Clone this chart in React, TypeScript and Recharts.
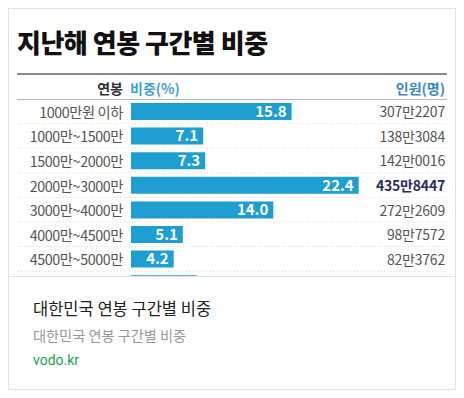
import { BarChart, Bar, XAxis, YAxis, LabelList } from 'recharts';

// 연봉 구간 (left labels)
const brackets = [
  '1000만원 이하',
  '1000만~1500만',
  '1500만~2000만',
  '2000만~3000만',
  '3000만~4000만',
  '4000만~4500만',
  '4500만~5000만',
  '5000만~6000만',
];
// 비중(%)
const shares = [15.8, 7.1, 7.3, 22.4, 14.0, 5.1, 4.2, 6.5];
// 인원(명)
const people = [
  '307만2207',
  '138만3084',
  '142만0016',
  '435만8447',
  '272만2609',
  '98만7572',
  '82만3762',
  '',
];

const data = brackets.map((bracket, i) => ({ bracket, pct: shares[i], people: people[i] }));
const topIndex = shares.indexOf(Math.max(...shares));

const CHART_W = 446;
const BAND = 24.6;
const FONT = '"Noto Sans CJK KR", "Noto Sans", sans-serif';

const LeftTick = (props: any) => {
  const { x, y, payload, index } = props;
  return (
    <g>
      <text
        x={x}
        y={y}
        textAnchor="end"
        dominantBaseline="central"
        fontSize={14.3}
        letterSpacing={-0.4}
        fill="#555"
        fontFamily={FONT}
      >
        {payload.value}
      </text>
      {index < brackets.length - 1 && (
        <line
          x1={9}
          x2={438}
          y1={y + BAND / 2}
          y2={y + BAND / 2}
          stroke="#d6d6d6"
          strokeDasharray="1 2"
        />
      )}
    </g>
  );
};

const RightTick = (props: any) => {
  const { y, payload, index } = props;
  const bold = index === topIndex;
  return (
    <text
      x={CHART_W - 10}
      y={y}
      textAnchor="end"
      dominantBaseline="central"
      fontSize={14}
      letterSpacing={-0.2}
      fontWeight={bold ? 700 : 400}
      fill={bold ? '#2b2f5e' : '#555'}
      fontFamily={FONT}
    >
      {payload.value}
    </text>
  );
};

export default function App() {
  return (
    <div
      style={{
        width: 448,
        height: 382,
        border: '1px solid #e2e2e2',
        boxSizing: 'border-box',
        position: 'relative',
        background: '#fff',
        fontFamily: FONT,
      }}
    >
      {/* image area */}
      <div style={{ position: 'absolute', left: 0, top: 0, width: 446, height: 267, overflow: 'hidden' }}>
        <div
          style={{
            position: 'absolute',
            left: 8,
            top: 18,
            lineHeight: '30px',
            fontSize: 26,
            fontWeight: 900,
            color: '#111',
            letterSpacing: -0.5,
            whiteSpace: 'nowrap',
          }}
        >
          지난해 연봉 구간별 비중
        </div>
        <div style={{ position: 'absolute', left: 8, top: 64, width: 430, height: 2, background: '#8a8a8a' }} />
        <div
          style={{
            position: 'absolute',
            right: 446 - 114,
            top: 69,
            lineHeight: '20px',
            fontSize: 14,
            fontWeight: 700,
            color: '#333',
          }}
        >
          연봉
        </div>
        <div
          style={{
            position: 'absolute',
            left: 121,
            top: 69,
            lineHeight: '20px',
            fontSize: 14,
            fontWeight: 700,
            color: '#3fa3d6',
          }}
        >
          비중(%)
        </div>
        <div
          style={{
            position: 'absolute',
            right: 10,
            top: 69,
            lineHeight: '20px',
            fontSize: 14,
            fontWeight: 700,
            color: '#3b88c8',
          }}
        >
          인원(명)
        </div>
        <div style={{ position: 'absolute', left: 8, top: 90, width: 430, height: 1, background: '#b5b5b5' }} />
        <div style={{ position: 'absolute', left: 0, top: 89.5 }}>
          <BarChart
            width={CHART_W}
            height={BAND * brackets.length}
            data={data}
            layout="vertical"
            margin={{ top: 0, right: 0, bottom: 0, left: 0 }}
          >
            <XAxis type="number" domain={[0, 30]} hide />
            <YAxis
              yAxisId="left"
              type="category"
              dataKey="bracket"
              width={122}
              axisLine={false}
              tickLine={false}
              tick={<LeftTick />}
              interval={0}
            />
            <YAxis
              yAxisId="right"
              orientation="right"
              type="category"
              dataKey="people"
              width={19}
              axisLine={false}
              tickLine={false}
              tick={<RightTick />}
              interval={0}
            />
            <Bar dataKey="pct" yAxisId="left" fill="#1d9fd1" barSize={17} isAnimationActive={false}>
              <LabelList
                dataKey="pct"
                position="insideRight"
                offset={5}
                fill="#fff"
                fontSize={15}
                fontWeight={700}
                fontFamily={FONT}
                formatter={(v: any) => Number(v).toFixed(1)}
              />
            </Bar>
          </BarChart>
        </div>
      </div>

      {/* caption area */}
      <div
        style={{
          position: 'absolute',
          left: 0,
          top: 267,
          width: 446,
          height: 113,
          borderTop: '1px solid #e2e2e2',
        }}
      >
        <div style={{ position: 'absolute', left: 24, top: 20, lineHeight: '22px', fontSize: 16.5, color: '#222', whiteSpace: 'nowrap' }}>
          대한민국 연봉 구간별 비중
        </div>
        <div style={{ position: 'absolute', left: 24, top: 48, lineHeight: '20px', fontSize: 14.2, color: '#999', whiteSpace: 'nowrap' }}>
          대한민국 연봉 구간별 비중
        </div>
        <div
          style={{
            position: 'absolute',
            left: 24,
            top: 73,
            lineHeight: '20px',
            fontSize: 14,
            color: '#21a34f',
            fontFamily: 'Roboto, sans-serif',
          }}
        >
          vodo.kr
        </div>
      </div>
    </div>
  );
}
